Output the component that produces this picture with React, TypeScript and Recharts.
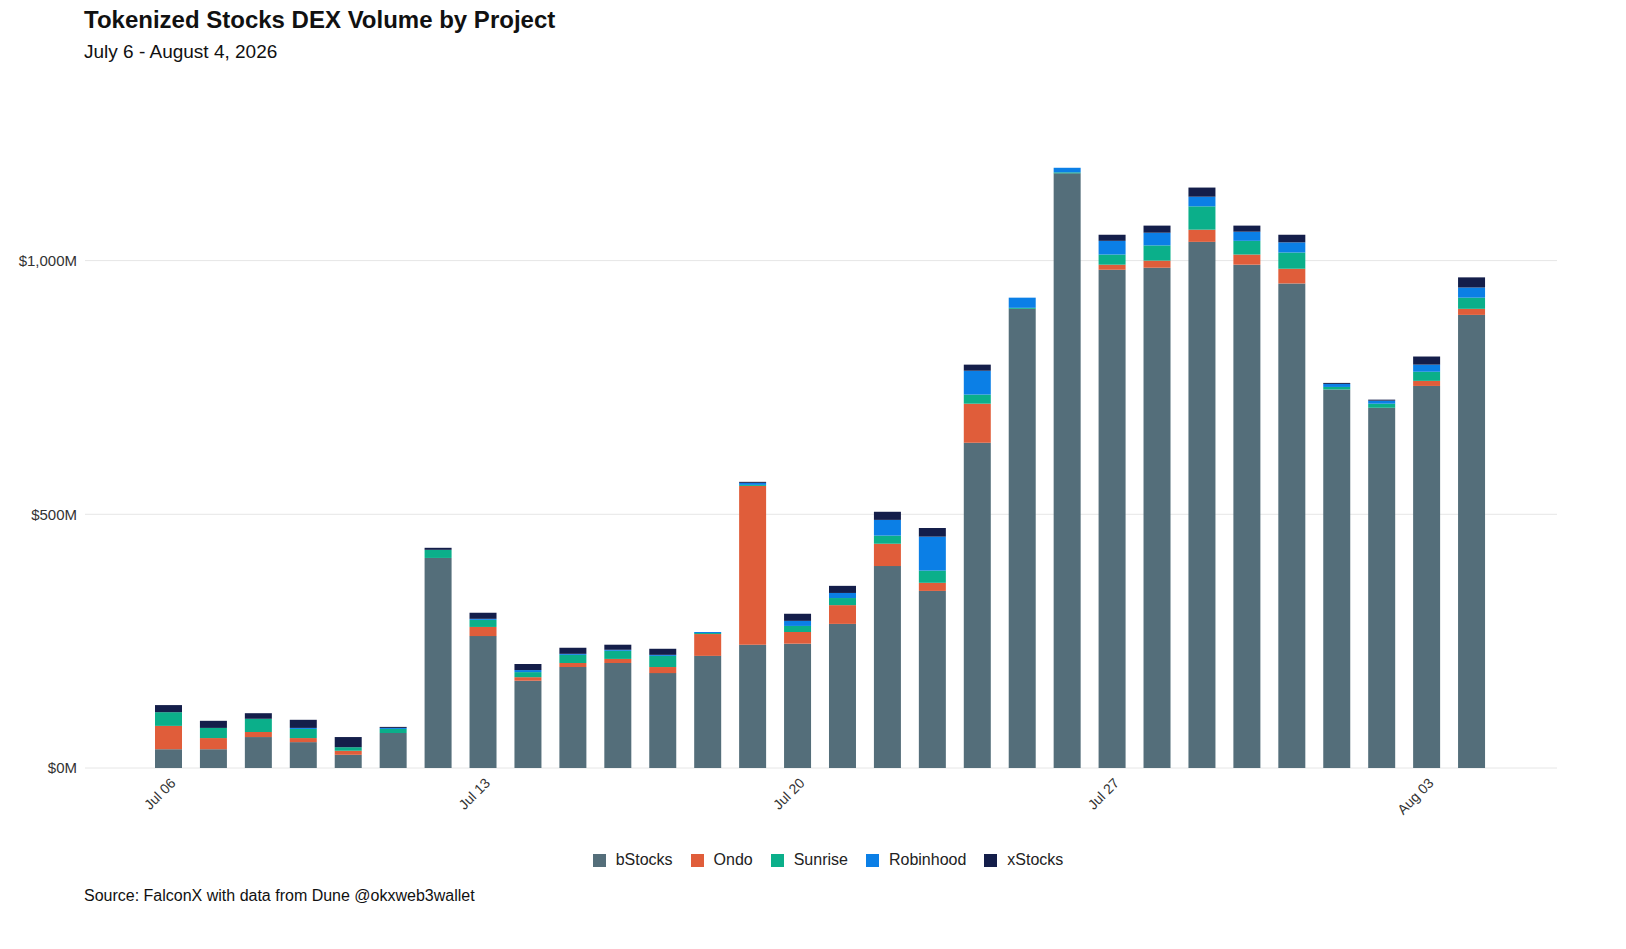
import { BarChart, Bar, XAxis, YAxis, CartesianGrid } from 'recharts';

const days = [
  'Jul 06', 'Jul 07', 'Jul 08', 'Jul 09', 'Jul 10', 'Jul 11', 'Jul 12',
  'Jul 13', 'Jul 14', 'Jul 15', 'Jul 16', 'Jul 17', 'Jul 18', 'Jul 19',
  'Jul 20', 'Jul 21', 'Jul 22', 'Jul 23', 'Jul 24', 'Jul 25', 'Jul 26',
  'Jul 27', 'Jul 28', 'Jul 29', 'Jul 30', 'Jul 31', 'Aug 01', 'Aug 02',
  'Aug 03', 'Aug 04',
];
const bStocks = [37, 37, 61, 51, 26, 69, 414, 260, 172, 199, 207, 187, 221, 243, 245, 284, 398, 349, 641, 905, 1172, 982, 986, 1037, 992, 955, 746, 710, 753, 893];
const ondo = [46, 22, 10, 8, 8, 0, 0, 18, 7, 8, 8, 12, 43, 313, 23, 37, 44, 16, 77, 0, 0, 10, 14, 24, 20, 29, 0, 0, 10, 12];
const sunrise = [27, 20, 26, 18, 7, 8, 16, 14, 10, 16, 16, 22, 2, 2, 12, 14, 16, 24, 18, 2, 2, 20, 30, 46, 27, 32, 5, 8, 18, 22];
const robinhood = [0, 0, 0, 2, 0, 2, 0, 2, 4, 2, 2, 2, 2, 4, 10, 10, 31, 67, 47, 20, 9, 27, 25, 19, 18, 20, 6, 6, 14, 20];
const xStocks = [14, 14, 11, 16, 20, 2, 4, 12, 12, 12, 10, 12, 0, 2, 14, 14, 16, 17, 12, 0, 0, 12, 14, 18, 12, 15, 2, 2, 16, 20];

const series = [
  { key: 'bStocks', color: '#546E7A' },
  { key: 'Ondo', color: '#E05D3A' },
  { key: 'Sunrise', color: '#0BAF8A' },
  { key: 'Robinhood', color: '#0B7FE6' },
  { key: 'xStocks', color: '#141E4A' },
];

const data = days.map((d, i) => ({
  day: d,
  bStocks: bStocks[i],
  Ondo: ondo[i],
  Sunrise: sunrise[i],
  Robinhood: robinhood[i],
  xStocks: xStocks[i],
}));

const font = 'Liberation Sans, Arial, sans-serif';

const XTick = ({ x, y, payload }: any) => (
  <text x={x + 8} y={y + 8} textAnchor="end" fontSize={14} fill="#333" fontFamily={font}
    transform={`rotate(-45, ${x + 8}, ${y + 8})`}>
    {payload.value}
  </text>
);

const lastLabel = (props: any) => {
  const { x, y, width, index } = props;
  if (index !== days.length - 1) return null;
  const total = bStocks[index] + ondo[index] + sunrise[index] + robinhood[index] + xStocks[index];
  return (
    <text x={Number(x) + Number(width) / 2} y={Number(y) - 6} textAnchor="middle" fontSize={15}
      fontWeight="bold" fill="#111" fontFamily={font}>
      ${total}M
    </text>
  );
};

export default function App() {
  return (
    <div style={{ position: 'relative', width: 1610, height: 930, fontFamily: font, background: '#fff' }}>
      <div style={{ position: 'absolute', left: 76, top: -2, fontSize: 24, fontWeight: 'bold', color: '#111' }}>
        Tokenized Stocks DEX Volume by Project
      </div>
      <div style={{ position: 'absolute', left: 76, top: 33, fontSize: 19, color: '#111' }}>
        July 6 - August 4, 2026
      </div>
      <div style={{ position: 'absolute', top: 0, left: 0 }}>
        <BarChart width={1570} height={820} data={data} barCategoryGap="20%"
          margin={{ top: 141, right: 21, left: 0, bottom: 20 }}>
          <CartesianGrid vertical={false} stroke="#e6e6e6" horizontalValues={[0, 500, 1000]} />
          <XAxis dataKey="day" interval={6} tick={<XTick />} axisLine={false} tickLine={false}
            padding={{ left: 61, right: 63 }} height={40} />
          <YAxis domain={[0, 1220]} ticks={[0, 500, 1000]} width={77} axisLine={false} tickLine={false}
            tick={{ fontSize: 15, fill: '#333', fontFamily: font }}
            tickFormatter={(v) => `$${v.toLocaleString('en-US')}M`} />
          {series.map((s) => (
            <Bar key={s.key} dataKey={s.key} stackId="a" fill={s.color} isAnimationActive={false}
              label={s.key === 'xStocks' ? lastLabel : false} />
          ))}
        </BarChart>
      </div>
      <div style={{ position: 'absolute', top: 843, left: 0, width: 1640, display: 'flex', justifyContent: 'center', fontSize: 16, color: '#222' }}>
        {series.map((s) => (
          <div key={s.key} style={{ display: 'flex', alignItems: 'center', margin: '0 9px' }}>
            <span style={{ width: 13, height: 13, background: s.color, display: 'inline-block', marginRight: 10 }} />
            {s.key}
          </div>
        ))}
      </div>
      <div style={{ position: 'absolute', left: 76, top: 879, fontSize: 16, color: '#111' }}>
        Source: FalconX with data from Dune @okxweb3wallet
      </div>
    </div>
  );
}
